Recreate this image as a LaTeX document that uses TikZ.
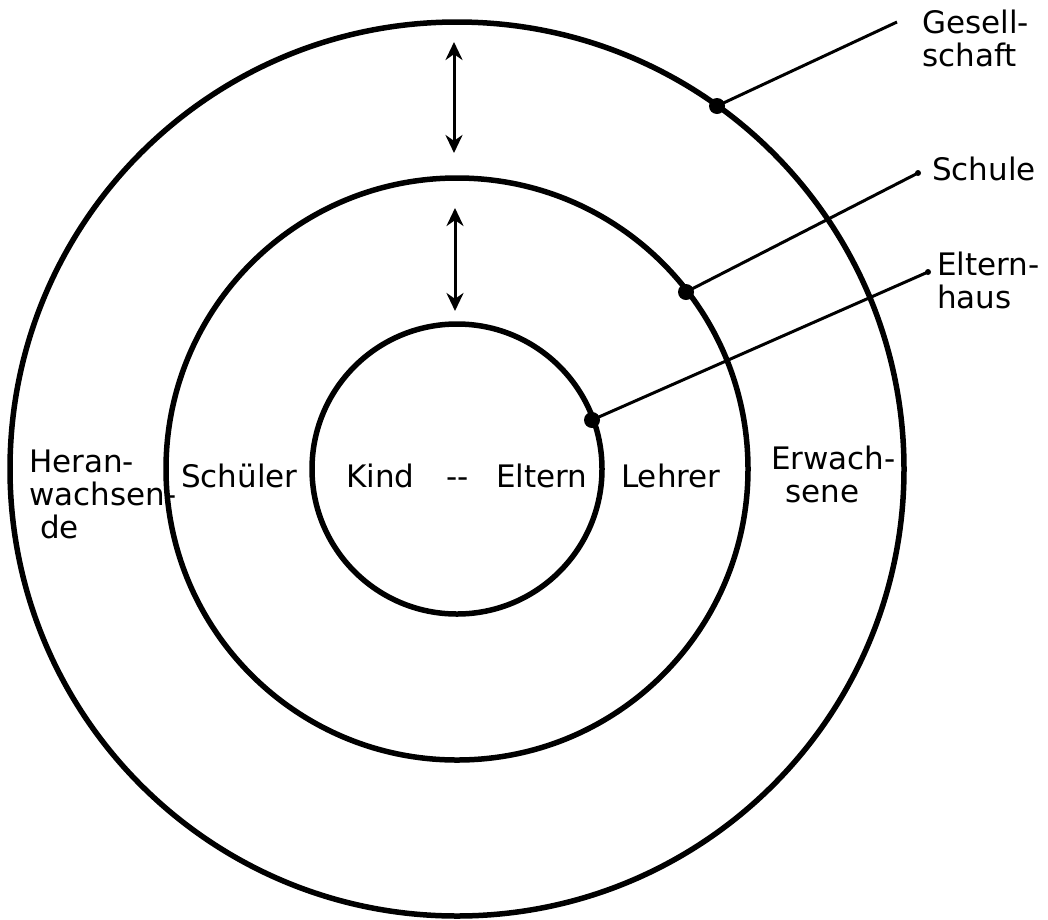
\documentclass[tikz,border=0pt]{standalone}
\usepackage{fontspec}
\setmainfont{DejaVu Sans}
\usetikzlibrary{arrows.meta}

\begin{document}
\begin{tikzpicture}[x=1pt,y=-1pt,>={Stealth[length=18pt,width=17pt]},
  ring/.style={line width=5.5pt},
  lead/.style={line width=3pt},
  lbl/.style={anchor=base west,inner sep=0pt,align=left,font=\fontsize{31}{33}\selectfont}]
\useasboundingbox (0,0) rectangle (1048,919);
% the three circles
\coordinate (c) at (457,469);
\draw[ring] (c) circle[radius=145];
\draw[ring] (c) circle[radius=291];
\draw[ring] (c) circle[radius=447];
% arrows between the rings
\coordinate (up1) at (454,42);
\coordinate (up2) at (454,153);
\coordinate (lo1) at (455,208);
\coordinate (lo2) at (455,311);
\draw[<->,line width=3pt] (up1) -- (up2);
\draw[<->,line width=3pt] (lo1) -- (lo2);
% labels inside (base = last line)
\node[lbl] (heran) at (29,538) {Heran-\\wachsen-\\\hspace*{0.35em}de};
\node[lbl] (schueler) at (181,487) {Schüler};
\node[lbl] (kind) at (346,487) {Kind};
\node[lbl] (dash) at (446,487) {-{}-};
\node[lbl] (eltern) at (496,487) {Eltern};
\node[lbl] (lehrer) at (621,487) {Lehrer};
\node[lbl] (erw) at (771,502) {Erwach-\\\hspace*{0.45em}sene};
% labels outside
\node[lbl] (ges) at (922,66) {Gesell-\\schaft};
\node[lbl] (schule) at (932,180) {Schule};
\node[lbl] (ehaus) at (937,308) {Eltern-\\haus};
% leader lines
\coordinate (dotG) at (717,106);
\coordinate (dotS) at (686,292);
\coordinate (dotE) at (592,420);
\coordinate (endG) at (897,22);
\coordinate (endS) at (918,173);
\coordinate (endE) at (928,272);
\draw[lead] (dotG) -- (endG);
\draw[lead] (dotS) -- (endS);
\draw[lead] (dotE) -- (endE);
\fill (dotG) circle[radius=8] (dotS) circle[radius=8] (dotE) circle[radius=8];
\fill (endS) circle[radius=3] (endE) circle[radius=3];
\end{tikzpicture}
\end{document}
